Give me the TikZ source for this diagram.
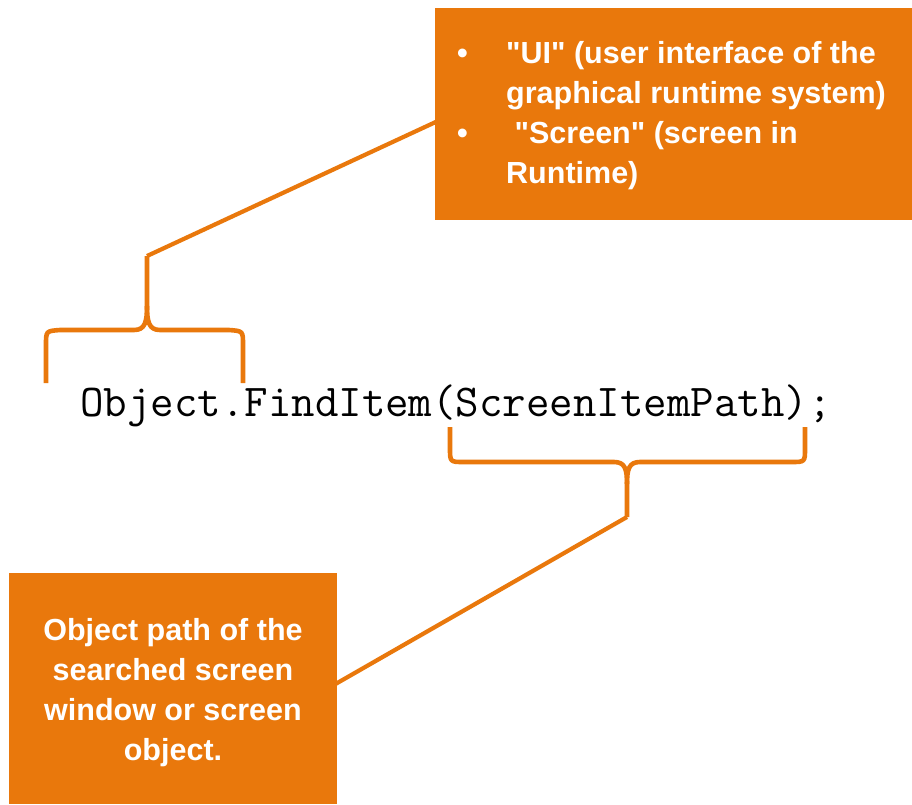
\documentclass[tikz,border=0pt]{standalone}
\usepackage{fontspec}
\setmainfont{Liberation Sans}[Ligatures=TeXOff]
\definecolor{boxorange}{RGB}{233,120,12}
\begin{document}
\begin{tikzpicture}[x=1pt,y=-1pt,
  obox/.style={fill=boxorange,draw=none,inner sep=0pt,anchor=north west},
  btext/.style={text=white,inner sep=0pt,font=\fontsize{30.5}{40}\selectfont\bfseries},
  bracepath/.style={draw=boxorange,line width=4.6pt,line cap=butt,line join=round},
  connector/.style={draw=boxorange,line width=4.2pt}]
\useasboundingbox (0,0) rectangle (912,804);

% code line
\node[inner sep=0pt,anchor=base west,font=\ttfamily\fontsize{45.6}{50}\selectfont] (code) at (80,416) {Object.FindItem(ScreenItemPath);};

% brace above "Object"
\coordinate (tipA) at (147,256);
\draw[bracepath] (46,383) -- (46,345) .. controls (46,331) .. (60,330) -- (134,330)
   .. controls (145,330) and (147,322) .. (147,306) -- (tipA);
\draw[bracepath] (147,306) .. controls (147,322) and (149,330) .. (160,330) -- (229,330)
   .. controls (243,331) .. (243,345) -- (243,383);

% brace below "ScreenItemPath)"
\coordinate (tipB) at (627,517);
\draw[bracepath] (450,427) -- (450,448) .. controls (450,462) .. (464,462) -- (614,462)
   .. controls (625,462) and (627,469) .. (627,484) -- (tipB);
\draw[bracepath] (627,484) .. controls (627,469) and (629,462) .. (640,462) -- (791,462)
   .. controls (805,462) .. (805,448) -- (805,427);

% connectors (behind the boxes)
\coordinate (endA) at (440,120);
\coordinate (endB) at (332,686);
\draw[connector] (tipA) -- (endA);
\draw[connector] (tipB) -- (endB);

% top-right box
\node[obox,minimum width=477pt,minimum height=212pt] (box1) at (435,8) {};
\node[btext,anchor=base west] (text1) at (457,63) {%
  \begin{tabular}[t]{@{}p{49pt}@{}l@{}}
  \textbullet & "UI" (user interface of the\\
   & graphical runtime system)\\
  \textbullet & \ "Screen" (screen in\\
   & Runtime)
  \end{tabular}};

% bottom-left box
\node[obox,minimum width=328pt,minimum height=231pt] (box2) at (9,573) {};
\node[btext,anchor=base] (text2) at (173,640) {%
  \begin{tabular}[t]{@{}c@{}}
  Object path of the\\
  searched screen\\
  window or screen\\
  object.
  \end{tabular}};
\end{tikzpicture}
\end{document}
